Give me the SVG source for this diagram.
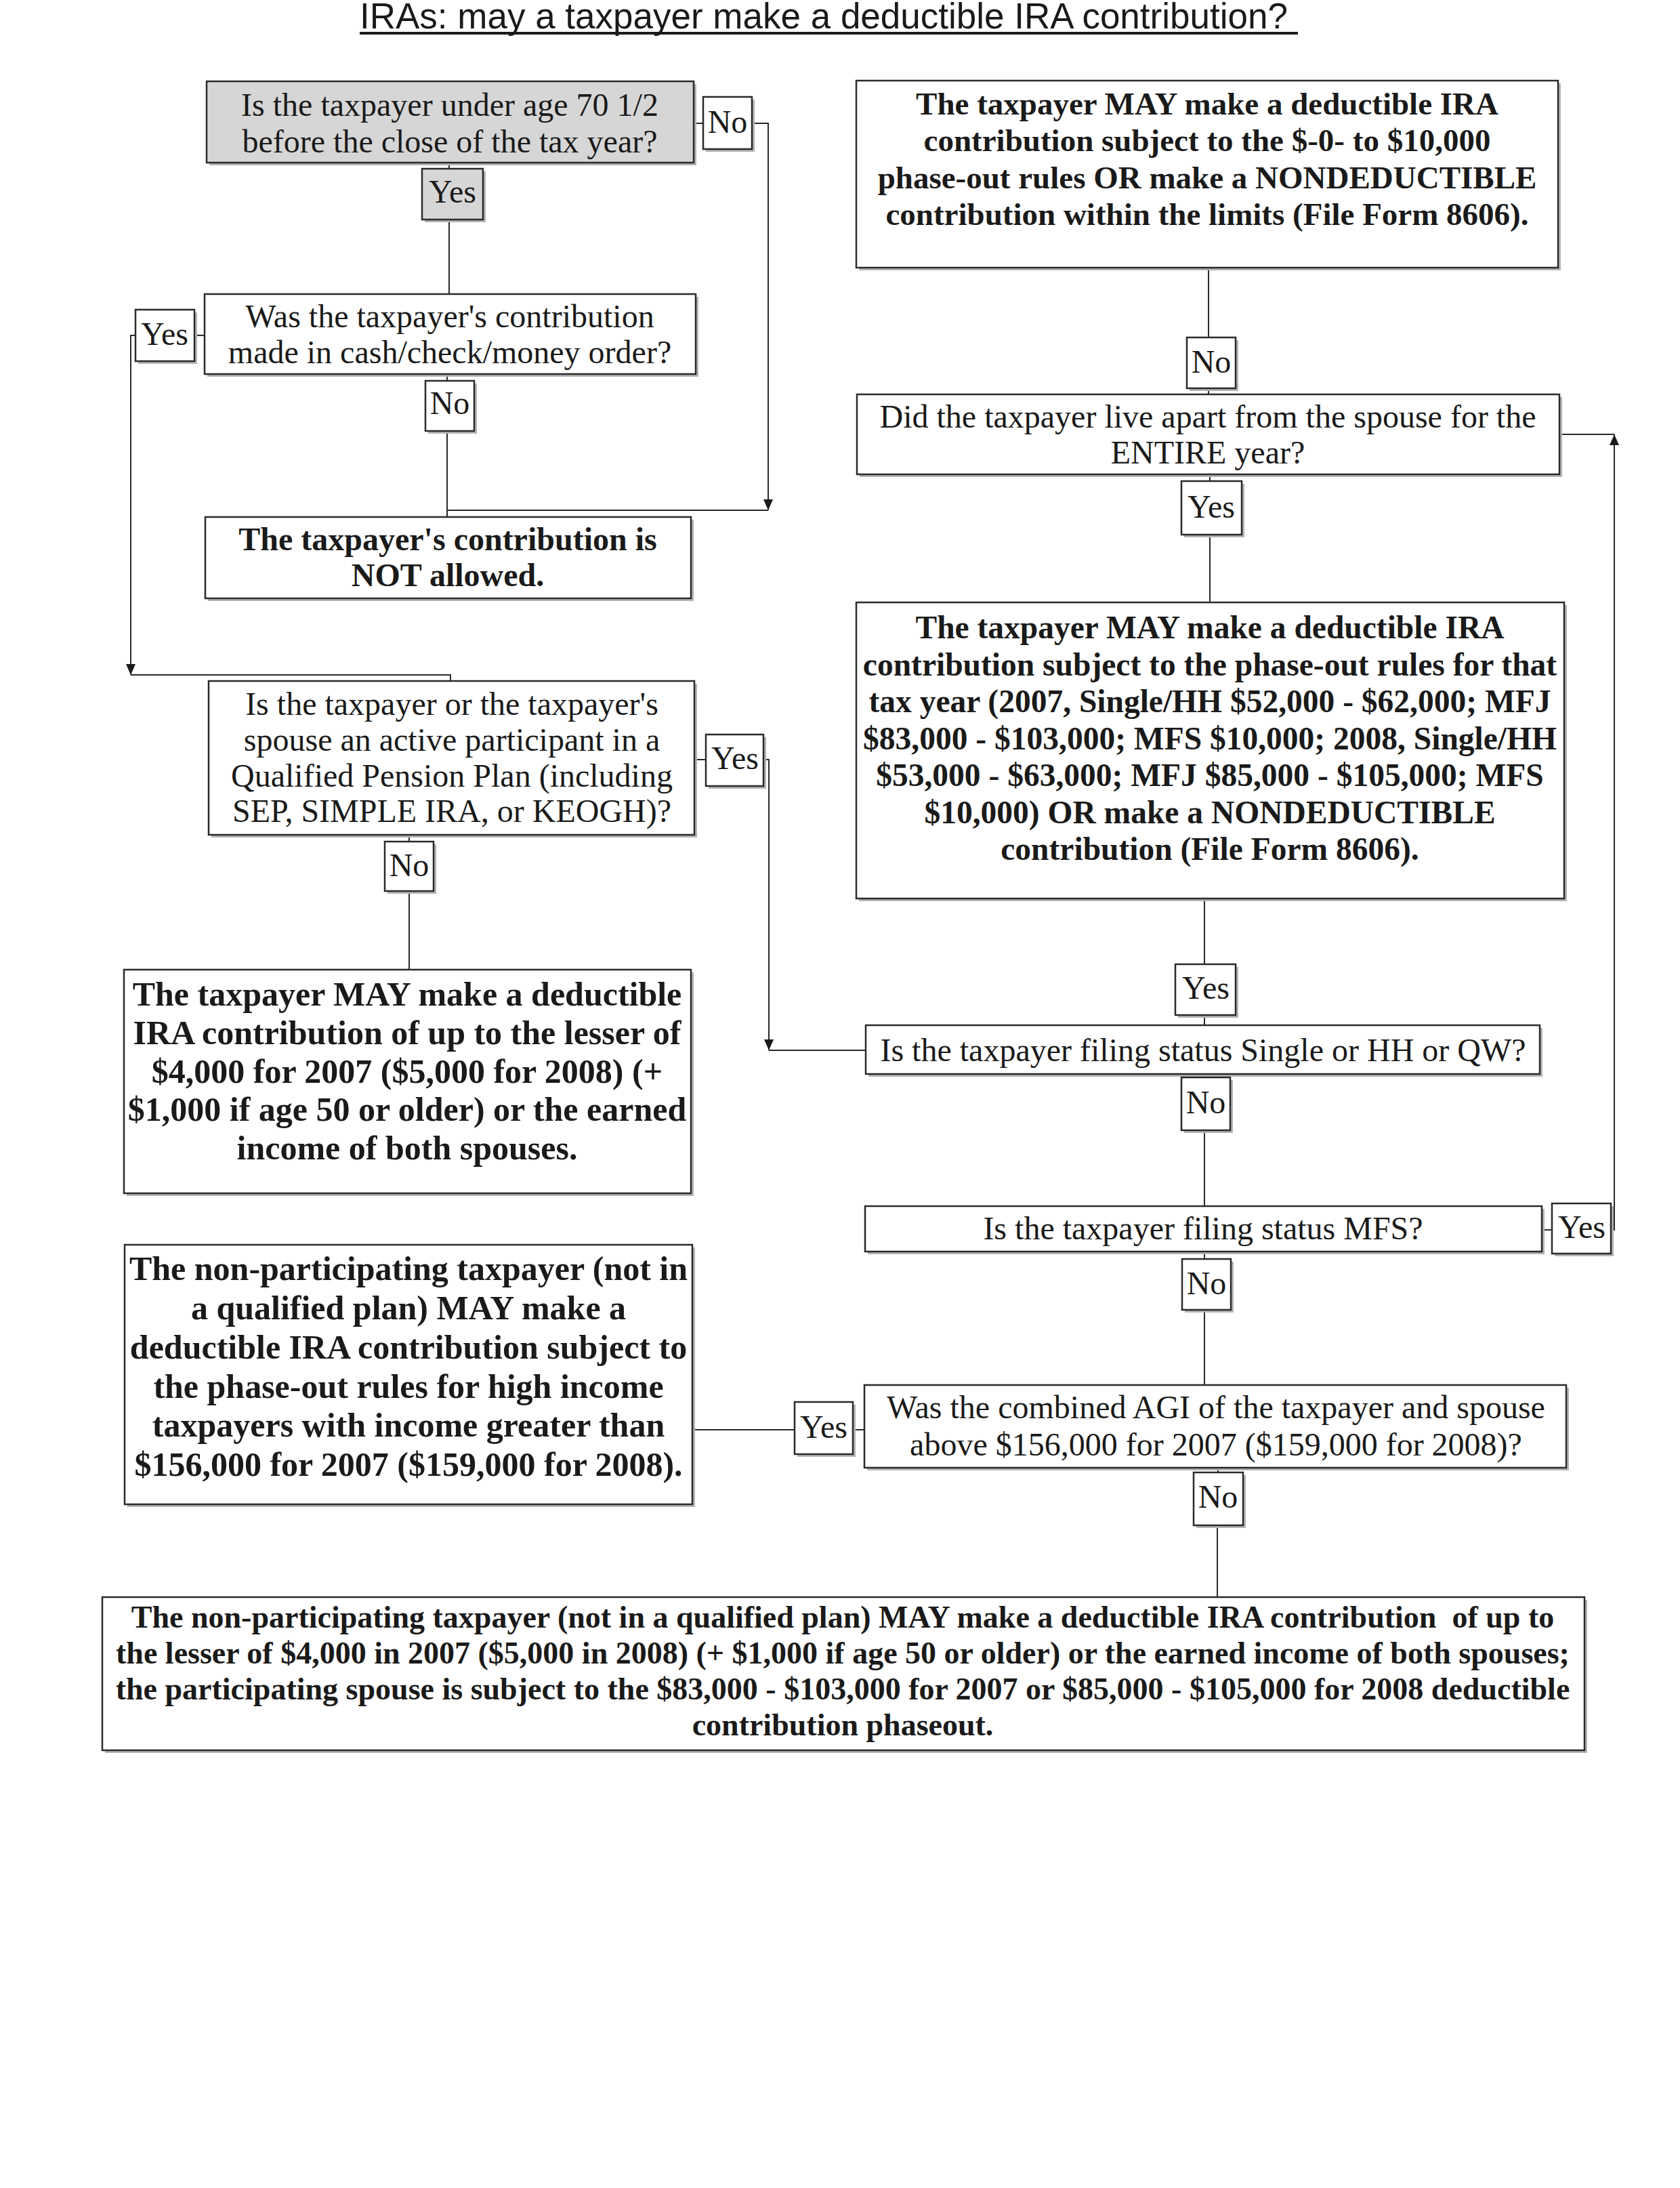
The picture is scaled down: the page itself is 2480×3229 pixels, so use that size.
<svg xmlns="http://www.w3.org/2000/svg" width="2480" height="3229" viewBox="0 0 2480 3229">
<style>
.bg{fill:#ffffff}
.sh{fill:#b4b4b4}
.bx{fill:#ffffff;stroke:#2a2a2a;stroke-width:2.5}
.gr{fill:#d6d6d6;stroke:#2a2a2a;stroke-width:2.5}
.t{font-family:"Liberation Serif","Times New Roman",serif;font-size:48px;fill:#1a1a1a;text-anchor:middle}
.b{font-family:"Liberation Serif","Times New Roman",serif;font-weight:bold;fill:#1a1a1a;text-anchor:middle}
.ttl{font-family:"Liberation Sans",Arial,sans-serif;font-size:53px;fill:#1a1a1a}
.c{fill:none;stroke:#2a2a2a;stroke-width:2}
.ca{fill:none;stroke:#2a2a2a;stroke-width:2;marker-end:url(#ah)}
</style>
<defs>
<marker id="ah" markerUnits="userSpaceOnUse" markerWidth="16" markerHeight="14" refX="16" refY="7" orient="auto">
<path d="M0,0 L16,7 L0,14 z" fill="#1a1a1a"/>
</marker>
</defs>
<rect class="bg" x="0" y="0" width="2480" height="3229"/>

<g id="title">
<text class="ttl" x="531" y="42">IRAs: may a taxpayer make a deductible IRA contribution?</text>
<rect x="531" y="47" width="1385" height="4" fill="#1a1a1a"/>
</g>

<g id="connectors">
<path class="c" d="M663 240 V249"/>
<path class="c" d="M663 324 V434"/>
<path class="c" d="M1024 182 H1038"/>
<path class="ca" d="M1110 182 H1134 V753"/>
<path class="c" d="M660 552 V562"/>
<path class="c" d="M660 636 V763"/>
<path class="c" d="M660 753 H1134"/>
<path class="c" d="M302 495 H287"/>
<path class="ca" d="M200 495 H193 V996"/>
<path class="c" d="M193 996 H665 V1005"/>
<path class="c" d="M1025 1121 H1042"/>
<path class="ca" d="M1127 1121 H1135 V1550"/>
<path class="c" d="M1135 1550 H1278"/>
<path class="c" d="M604 1232 V1242"/>
<path class="c" d="M604 1315 V1431"/>
<path class="c" d="M1022 2110 H1173"/>
<path class="c" d="M1259 2110 H1276"/>
<path class="c" d="M1784 395 V498"/>
<path class="c" d="M1784 573 V582"/>
<path class="c" d="M1786 700 V710"/>
<path class="c" d="M1786 789 V889"/>
<path class="c" d="M1778 1326 V1423"/>
<path class="c" d="M1778 1498 V1513"/>
<path class="c" d="M1778 1585 V1590"/>
<path class="c" d="M1778 1668 V1780"/>
<path class="c" d="M2276 1815 H2291"/>
<path class="ca" d="M2378 1815 H2383 V641"/>
<path class="c" d="M2302 641 H2383"/>
<path class="c" d="M1778 1847 V1858"/>
<path class="c" d="M1778 1933 V2044"/>
<path class="c" d="M1798 2166 V2173"/>
<path class="c" d="M1797 2251 V2357"/>
</g>

<g id="q-age">
<rect class="sh" x="309" y="124" width="719" height="120"/>
<rect class="gr" x="305" y="120" width="719" height="120"/>
<text class="t" x="664" y="171">Is the taxpayer under age 70 1/2</text>
<text class="t" x="664" y="225">before the close of the tax year?</text>
</g>
<g id="l-age-yes">
<rect class="sh" x="627" y="253" width="90" height="75"/>
<rect class="gr" x="623" y="249" width="90" height="75"/>
<text class="t" x="668" y="299">Yes</text>
</g>
<g id="l-age-no">
<rect class="sh" x="1042" y="147" width="72" height="77"/>
<rect class="bx" x="1038" y="143" width="72" height="77"/>
<text class="t" x="1074" y="196">No</text>
</g>

<g id="q-cash">
<rect class="sh" x="306" y="438" width="725" height="118"/>
<rect class="bx" x="302" y="434" width="725" height="118"/>
<text class="t" x="664" y="483">Was the taxpayer's contribution</text>
<text class="t" x="664" y="536">made in cash/check/money order?</text>
</g>
<g id="l-cash-yes">
<rect class="sh" x="204" y="461" width="87" height="76"/>
<rect class="bx" x="200" y="457" width="87" height="76"/>
<text class="t" x="243" y="509">Yes</text>
</g>
<g id="l-cash-no">
<rect class="sh" x="632" y="566" width="72" height="74"/>
<rect class="bx" x="628" y="562" width="72" height="74"/>
<text class="t" x="664" y="611">No</text>
</g>

<g id="r-not-allowed">
<rect class="sh" x="307" y="767" width="717" height="120"/>
<rect class="bx" x="303" y="763" width="717" height="120"/>
<text class="b" font-size="48" x="661" y="812">The taxpayer's contribution is</text>
<text class="b" font-size="48" x="661" y="865">NOT allowed.</text>
</g>

<g id="q-participant">
<rect class="sh" x="312" y="1009" width="717" height="227"/>
<rect class="bx" x="308" y="1005" width="717" height="227"/>
<text class="t" x="667" y="1055">Is the taxpayer or the taxpayer's</text>
<text class="t" x="667" y="1108">spouse an active participant in a</text>
<text class="t" x="667" y="1161">Qualified Pension Plan (including</text>
<text class="t" x="667" y="1213">SEP, SIMPLE IRA, or KEOGH)?</text>
</g>
<g id="l-part-yes">
<rect class="sh" x="1046" y="1088" width="85" height="76"/>
<rect class="bx" x="1042" y="1084" width="85" height="76"/>
<text class="t" x="1085" y="1135">Yes</text>
</g>
<g id="l-part-no">
<rect class="sh" x="572" y="1246" width="72" height="73"/>
<rect class="bx" x="568" y="1242" width="72" height="73"/>
<text class="t" x="604" y="1293">No</text>
</g>

<g id="r-full-deduct">
<rect class="sh" x="187" y="1435" width="837" height="330"/>
<rect class="bx" x="183" y="1431" width="837" height="330"/>
<text class="b" font-size="50" x="601" y="1484">The taxpayer MAY make a deductible</text>
<text class="b" font-size="50" x="601" y="1541">IRA contribution of up to the lesser of</text>
<text class="b" font-size="50" x="601" y="1598">$4,000 for 2007 ($5,000 for 2008) (+</text>
<text class="b" font-size="50" x="601" y="1654">$1,000 if age 50 or older) or the earned</text>
<text class="b" font-size="50" x="601" y="1711">income of both spouses.</text>
</g>

<g id="r-high-income">
<rect class="sh" x="188" y="1841" width="838" height="383"/>
<rect class="bx" x="184" y="1837" width="838" height="383"/>
<text class="b" font-size="50" x="603" y="1889">The non-participating taxpayer (not in</text>
<text class="b" font-size="50" x="603" y="1947">a qualified plan) MAY make a</text>
<text class="b" font-size="50" x="603" y="2005">deductible IRA contribution subject to</text>
<text class="b" font-size="50" x="603" y="2063">the phase-out rules for high income</text>
<text class="b" font-size="50" x="603" y="2120">taxpayers with income greater than</text>
<text class="b" font-size="50" x="603" y="2178">$156,000 for 2007 ($159,000 for 2008).</text>
</g>
<g id="l-agi-yes">
<rect class="sh" x="1177" y="2073" width="86" height="77"/>
<rect class="bx" x="1173" y="2069" width="86" height="77"/>
<text class="t" x="1216" y="2122">Yes</text>
</g>

<g id="r-zero-phaseout">
<rect class="sh" x="1268" y="123" width="1036" height="276"/>
<rect class="bx" x="1264" y="119" width="1036" height="276"/>
<text class="b" font-size="47" x="1782" y="169">The taxpayer MAY make a deductible IRA</text>
<text class="b" font-size="47" x="1782" y="223">contribution subject to the $-0- to $10,000</text>
<text class="b" font-size="47" x="1782" y="278">phase-out rules OR make a NONDEDUCTIBLE</text>
<text class="b" font-size="47" x="1782" y="332">contribution within the limits (File Form 8606).</text>
</g>
<g id="l-apart-no">
<rect class="sh" x="1756" y="502" width="72" height="75"/>
<rect class="bx" x="1752" y="498" width="72" height="75"/>
<text class="t" x="1788" y="550">No</text>
</g>

<g id="q-apart">
<rect class="sh" x="1269" y="586" width="1037" height="118"/>
<rect class="bx" x="1265" y="582" width="1037" height="118"/>
<text class="t" x="1783" y="631">Did the taxpayer live apart from the spouse for the</text>
<text class="t" x="1783" y="684">ENTIRE year?</text>
</g>
<g id="l-apart-yes">
<rect class="sh" x="1748" y="714" width="89" height="79"/>
<rect class="bx" x="1744" y="710" width="89" height="79"/>
<text class="t" x="1788" y="764">Yes</text>
</g>

<g id="r-phaseout-rules">
<rect class="sh" x="1268" y="893" width="1045" height="437"/>
<rect class="bx" x="1264" y="889" width="1045" height="437"/>
<text class="b" font-size="47.5" x="1786" y="942">The taxpayer MAY make a deductible IRA</text>
<text class="b" font-size="47.5" x="1786" y="997">contribution subject to the phase-out rules for that</text>
<text class="b" font-size="47.5" x="1786" y="1051">tax year (2007, Single/HH $52,000 - $62,000; MFJ</text>
<text class="b" font-size="47.5" x="1786" y="1106">$83,000 - $103,000; MFS $10,000; 2008, Single/HH</text>
<text class="b" font-size="47.5" x="1786" y="1160">$53,000 - $63,000; MFJ $85,000 - $105,000; MFS</text>
<text class="b" font-size="47.5" x="1786" y="1215">$10,000) OR make a NONDEDUCTIBLE</text>
<text class="b" font-size="47.5" x="1786" y="1269">contribution (File Form 8606).</text>
</g>
<g id="l-single-yes">
<rect class="sh" x="1739" y="1427" width="89" height="75"/>
<rect class="bx" x="1735" y="1423" width="89" height="75"/>
<text class="t" x="1780" y="1474">Yes</text>
</g>

<g id="q-single">
<rect class="sh" x="1282" y="1517" width="995" height="72"/>
<rect class="bx" x="1278" y="1513" width="995" height="72"/>
<text class="t" x="1776" y="1566">Is the taxpayer filing status Single or HH or QW?</text>
</g>
<g id="l-single-no">
<rect class="sh" x="1748" y="1594" width="72" height="78"/>
<rect class="bx" x="1744" y="1590" width="72" height="78"/>
<text class="t" x="1780" y="1643">No</text>
</g>

<g id="q-mfs">
<rect class="sh" x="1281" y="1784" width="999" height="67"/>
<rect class="bx" x="1277" y="1780" width="999" height="67"/>
<text class="t" x="1776" y="1829">Is the taxpayer filing status MFS?</text>
</g>
<g id="l-mfs-yes">
<rect class="sh" x="2295" y="1780" width="87" height="74"/>
<rect class="bx" x="2291" y="1776" width="87" height="74"/>
<text class="t" x="2335" y="1827">Yes</text>
</g>
<g id="l-mfs-no">
<rect class="sh" x="1749" y="1862" width="72" height="75"/>
<rect class="bx" x="1745" y="1858" width="72" height="75"/>
<text class="t" x="1781" y="1910">No</text>
</g>

<g id="q-agi">
<rect class="sh" x="1280" y="2048" width="1036" height="122"/>
<rect class="bx" x="1276" y="2044" width="1036" height="122"/>
<text class="t" x="1795" y="2093">Was the combined AGI of the taxpayer and spouse</text>
<text class="t" x="1795" y="2148">above $156,000 for 2007 ($159,000 for 2008)?</text>
</g>
<g id="l-agi-no">
<rect class="sh" x="1766" y="2177" width="73" height="78"/>
<rect class="bx" x="1762" y="2173" width="73" height="78"/>
<text class="t" x="1798" y="2225">No</text>
</g>

<g id="r-spousal">
<rect class="sh" x="155" y="2361" width="2188" height="226"/>
<rect class="bx" x="151" y="2357" width="2188" height="226"/>
<text class="b" font-size="46" x="1244" y="2402" xml:space="preserve">The non-participating taxpayer (not in a qualified plan) MAY make a deductible IRA contribution  of up to</text>
<text class="b" font-size="46" x="1244" y="2455">the lesser of $4,000 in 2007 ($5,000 in 2008) (+ $1,000 if age 50 or older) or the earned income of both spouses;</text>
<text class="b" font-size="46" x="1244" y="2508">the participating spouse is subject to the $83,000 - $103,000 for 2007 or $85,000 - $105,000 for 2008 deductible</text>
<text class="b" font-size="46" x="1244" y="2561">contribution phaseout.</text>
</g>
</svg>
